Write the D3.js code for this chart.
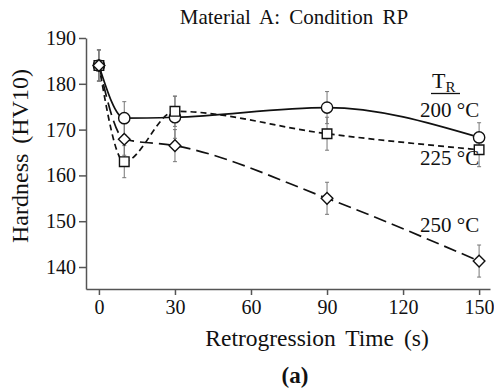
<!DOCTYPE html>
<html lang="en">
<head>
<meta charset="UTF-8" />
<title>Material A: Condition RP</title>
<style>
  html, body {
    margin: 0;
    padding: 0;
    background: #fff;
  }
  svg {
    display: block;
    font-family: "Liberation Serif", "Times New Roman", serif;
  }
  .axis path, .axis line {
    stroke: #555;
    stroke-width: 1.5px;
  }
  .err {
    stroke: #777;
    stroke-width: 1px;
  }
</style>
</head>
<body>
<svg width="494" height="392"></svg>

<script src="https://d3js.org/d3.v7.min.js"></script>
<script>
// retrogression times (s)
const times = [0, 10, 30, 90, 150];

// hardness HV10 for each retrogression temperature
const hv200 = [184, 172.5, 172.7, 174.8, 168.3];
const hv225 = [184, 163.0, 174.0, 169.1, 165.6];
const hv250 = [184, 167.9, 166.5, 155.0, 141.3];

// error bar half-widths
const err200 = [3.4, 3.6, 4.6, 3.5, 3.2];
const err225 = [3.4, 3.5, 3.3, 3.6, 3.7];
const err250 = [3.4, 3.5, 3.5, 3.5, 3.5];

const xTicks = [0, 30, 60, 90, 120, 150];
const yTicks = [140, 150, 160, 170, 180, 190];

const series = [
  { label: "200 °C", values: hv200, err: err200, marker: "circle", dash: null },
  { label: "225 °C", values: hv225, err: err225, marker: "square", dash: "6,4" },
  { label: "250 °C", values: hv250, err: err250, marker: "diamond", dash: "13,6" }
];

const serif = "'Liberation Serif', 'Times New Roman', serif";
const svg = d3.select("svg");

const x = d3.scaleLinear().domain([-5.1, 154.3]).range([86, 490]);
const y = d3.scaleLinear().domain([135.2, 190]).range([289, 38]);

// axes
svg.append("g")
  .attr("class", "axis")
  .attr("transform", "translate(0,289)")
  .call(d3.axisBottom(x).tickValues(xTicks).tickSize(6).tickSizeOuter(0).tickPadding(2))
  .attr("font-family", serif)
  .attr("font-size", 20)
  .call(g => g.selectAll("text").attr("dy", "0.85em").attr("fill", "#111"));

svg.append("g")
  .attr("class", "axis")
  .attr("transform", "translate(86,0)")
  .call(d3.axisLeft(y).tickValues(yTicks).tickSize(7).tickSizeOuter(0).tickPadding(3))
  .attr("font-family", serif)
  .attr("font-size", 20)
  .call(g => g.selectAll("text").attr("fill", "#111"));

// lines
const line = d3.line()
  .x((d, i) => x(times[i]))
  .y(d => y(d))
  .curve(d3.curveMonotoneX);

series.forEach(s => {
  svg.append("path")
    .attr("d", line(s.values))
    .attr("fill", "none")
    .attr("stroke", "#111")
    .attr("stroke-width", 1.7)
    .attr("stroke-dasharray", s.dash);
});

// error bars
series.forEach(s => {
  const g = svg.append("g").attr("class", "err");
  s.values.forEach((v, i) => {
    const cx = x(times[i]);
    const top = y(v + s.err[i]);
    const bot = y(v - s.err[i]);
    g.append("line").attr("x1", cx).attr("x2", cx).attr("y1", top).attr("y2", bot);
    g.append("line").attr("x1", cx - 2).attr("x2", cx + 2).attr("y1", top).attr("y2", top);
    g.append("line").attr("x1", cx - 2).attr("x2", cx + 2).attr("y1", bot).attr("y2", bot);
  });
});

// markers (diamond = square turned 45°)
const symbols = {
  circle: d3.symbol().type(d3.symbolCircle).size(100),
  square: d3.symbol().type(d3.symbolSquare).size(92),
  diamond: d3.symbol().type(d3.symbolSquare).size(68)
};

series.forEach(s => {
  svg.append("g")
    .selectAll("path")
    .data(s.values)
    .join("path")
    .attr("transform", (d, i) => `translate(${x(times[i])},${y(d)})` + (s.marker === "diamond" ? " rotate(45)" : ""))
    .attr("d", symbols[s.marker]())
    .attr("fill", "#fff")
    .attr("stroke", "#111")
    .attr("stroke-width", 1.4);
});

// legend labels
svg.append("text")
  .attr("x", 432).attr("y", 88)
  .attr("font-size", 22)
  .attr("fill", "#111")
  .text("T")
  .append("tspan")
  .attr("font-size", 15)
  .attr("dy", 4)
  .text("R");
svg.append("line")
  .attr("x1", 431).attr("x2", 460)
  .attr("y1", 93.5).attr("y2", 93.5)
  .attr("stroke", "#111").attr("stroke-width", 1.3);

const labelPos = [[420, 117], [420, 165], [420, 232]];
series.forEach((s, i) => {
  svg.append("text")
    .attr("x", labelPos[i][0]).attr("y", labelPos[i][1])
    .attr("font-size", 21)
    .attr("fill", "#111")
    .text(s.label);
});

// titles
svg.append("text")
  .attr("x", 294).attr("y", 24)
  .attr("text-anchor", "middle")
  .attr("font-size", 21)
  .attr("word-spacing", 4)
  .attr("fill", "#111")
  .text("Material A: Condition RP");

svg.append("text")
  .attr("x", 317).attr("y", 346)
  .attr("text-anchor", "middle")
  .attr("font-size", 23.5)
  .attr("word-spacing", 4)
  .attr("fill", "#111")
  .text("Retrogression Time (s)");

svg.append("text")
  .attr("transform", "translate(28,156) rotate(-90)")
  .attr("text-anchor", "middle")
  .attr("font-size", 24)
  .attr("word-spacing", 4)
  .attr("fill", "#111")
  .text("Hardness (HV10)");

svg.append("text")
  .attr("x", 295).attr("y", 383)
  .attr("text-anchor", "middle")
  .attr("font-size", 23)
  .attr("font-weight", "bold")
  .attr("fill", "#111")
  .text("(a)");
</script>
</body>
</html>
